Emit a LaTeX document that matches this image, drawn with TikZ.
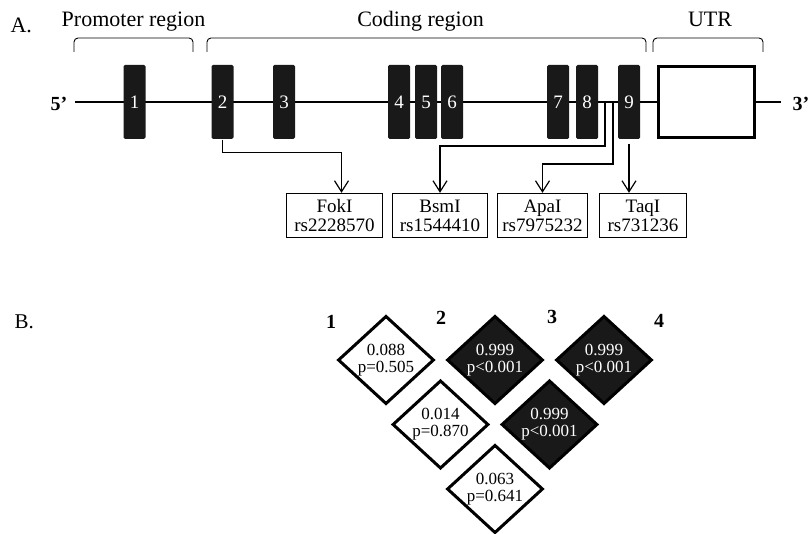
\documentclass[tikz,border=0pt]{standalone}
\usepackage{fontspec}
\setmainfont{Liberation Serif}
\usetikzlibrary{shapes.geometric,arrows.meta}
\def\exonh{74pt}
\def\genex{102}

\begin{document}
\begin{tikzpicture}[x=1pt,y=-1pt,line width=1.2pt]
  \tikzstyle{exon}=[rectangle,fill=black!90,rounded corners=1.5pt,minimum width=22pt,minimum height=\exonh,inner sep=0pt,text=white,font=\fontsize{19}{19}\selectfont]
  \tikzstyle{utr}=[rectangle,draw,line width=3pt,fill=white,minimum width=96pt,minimum height=71pt,inner sep=0pt]
  \tikzstyle{snp}=[rectangle,draw,line width=1.3pt,minimum height=44pt,inner sep=0pt,align=center,font=\fontsize{19}{19}\selectfont]
  \tikzstyle{brace}=[line width=0.9pt,rounded corners=4pt]
  \tikzstyle{head}=[anchor=base,font=\fontsize{22}{22}\selectfont]
  \tikzstyle{prime}=[anchor=base,inner sep=0pt,font=\fontsize{20}{20}\selectfont\bfseries]
  \tikzstyle{arr}=[-{Straight Barb[length=11pt,width=14pt]},line width=1.2pt]
  \tikzstyle{ld}=[diamond,draw=black,line width=3pt,minimum width=96pt,minimum height=88pt,inner sep=0pt,align=center,font=\fontsize{17}{17}\selectfont]
  \tikzstyle{lo}=[ld,fill=white]
  \tikzstyle{hi}=[ld,fill=black!90,text=white]
  \tikzstyle{locus}=[inner sep=0pt,font=\fontsize{20}{20}\selectfont\bfseries]

  \useasboundingbox (0,0) rectangle (809,534);

  \node[anchor=base west,inner sep=0pt,font=\fontsize{22}{22}\selectfont] (A) at (10,33) {A.};
  \node[anchor=base west,inner sep=0pt,font=\fontsize{21}{21}\selectfont] (B) at (14,329) {B.};

  \foreach \name/\l/\r/\x/\txt in {pro/74/193/133.5/Promoter region, cod/207/646/420.5/Coding region, utr/653/763/710/UTR}{
    \draw[brace] (\l,52) |- (\r,38) -- (\r,52);
    \node[head] (R-\name) at (\x,27) {\txt};
  }

  \node[prime,anchor=base east] (P5) at (68,111) {5’};
  \node[prime,anchor=base west] (P3) at (792,111) {3’};
  \coordinate (G-start) at (75,\genex);
  \coordinate (G-end) at (781,\genex);
  \draw (G-start) -- (G-end);

  \foreach \name/\x in {1/134.5,2/222.5,3/284,4/399,5/426,6/452,7/558,8/587,9/629}
    \node[exon] (E-\name) at (\x,\genex) {\name};

  \node[utr] (UTR) at (706,\genex) {};

  \foreach \name/\x/\w/\enz/\rs in {fok/334.5/96/FokI/rs2228570, bsm/440/95/BsmI/rs1544410, apa/542.5/90/ApaI/rs7975232, taq/643/87/TaqI/rs731236}
    \node[snp,minimum width=\w pt] (S-\name) at (\x,215.5) {\enz\\\rs};

  \coordinate (J-bsm) at (605,\genex);
  \coordinate (J-apa) at (613,\genex);
  \draw[arr] (E-2.south) -- ++(0,13) -| ([xshift=7pt]S-fok.north);
  \draw[arr] (J-bsm) -- ++(0,44) -| (S-bsm.north);
  \draw[arr] (J-apa) -- ++(0,62) -| (S-apa.north);
  \draw[arr,shorten <=4pt] (E-9.south) -- (E-9.south |- S-taq.north);

  \foreach \k/\x/\y in {1/331/322,2/441/318,3/552/317,4/659/321}
    \node[locus] (L-\k) at (\x,\y) {\k};

  \foreach \i/\j/\s/\val/\p in {1/2/lo/0.088/p=0.505, 2/3/hi/0.999/p<0.001, 3/4/hi/0.999/p<0.001, 1/3/lo/0.014/p=0.870, 2/4/hi/0.999/p<0.001, 1/4/lo/0.063/p=0.641}
    \node[\s] (D-\i-\j) at ({386+(\i+\j-3)*54.5},{360+(\j-\i-1)*64.5}) {\val\\\p};
\end{tikzpicture}
\end{document}
